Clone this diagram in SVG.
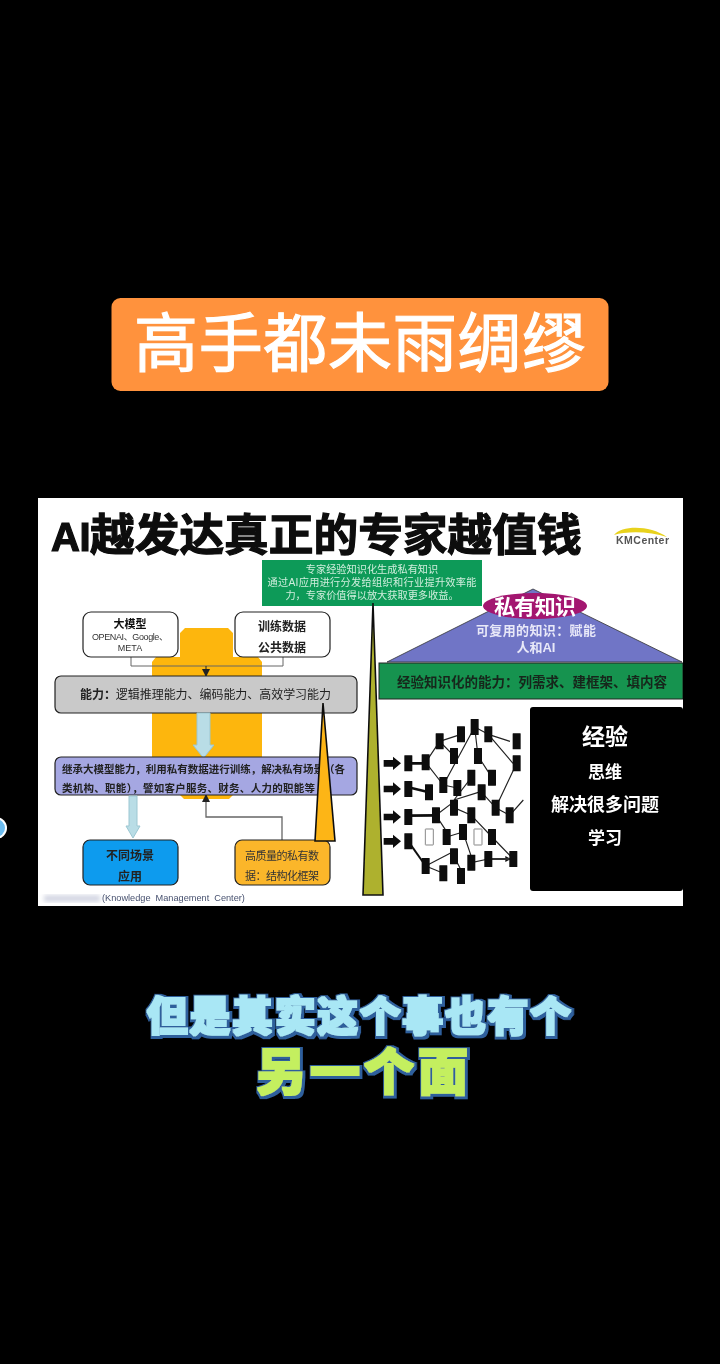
<svg xmlns="http://www.w3.org/2000/svg" width="720" height="1364" viewBox="0 0 720 1364">
<style>
text{font-family:"Liberation Sans","Noto Sans CJK SC",sans-serif}
.c{text-anchor:middle}
.b{font-weight:700}
.box{stroke:#222;stroke-width:1.200}
.gl{fill:none;stroke:#666;stroke-width:1}
.tri{stroke:#111;stroke-width:1.600}
.pale{fill:#b9dde6;stroke:#9cc7d2;stroke-width:1}
.k{fill:#0a0a0a}
.h{fill:#fff;stroke:#888;stroke-width:3}
.n{stroke:#222;stroke-width:3.500;fill:none;marker-end:url(#a)}
.n2{stroke:#111;stroke-width:8;fill:none}
.sub{font-weight:900}
</style>
<defs>
<marker id="a" markerWidth="5" markerHeight="5" refX="4" refY="2.500" orient="auto"><path d="M0 0L5 2.500L0 5Z" fill="#111"/></marker>
<marker id="m" markerWidth="8" markerHeight="8" refX="7" refY="4" orient="auto" markerUnits="userSpaceOnUse"><path d="M0 0L8 4L0 8Z" fill="#222"/></marker>
<rect id="r" x="-12" y="-24" width="24" height="48" rx="1"/>
<path id="big" d="M-26-10H2V-20L26 0L2 20V10H-26Z"/>
<filter id="bl"><feGaussianBlur stdDeviation="2"/></filter>
<filter id="soft" x="0" y="0" width="100%" height="100%"><feGaussianBlur stdDeviation="0.450"/></filter>
<filter id="fat" x="-5%" y="-20%" width="110%" height="140%">
<feMorphology in="SourceAlpha" operator="dilate" radius="3.200" result="o"/>
<feGaussianBlur in="o" stdDeviation="0.700" result="ob"/>
<feOffset in="ob" dx="1" dy="1" result="oo"/>
<feFlood flood-color="#2f5f9c"/>
<feComposite in2="oo" operator="in" result="edge"/>
<feMorphology in="SourceGraphic" operator="dilate" radius="0.800" result="f"/>
<feGaussianBlur in="f" stdDeviation="0.500" result="fb"/>
<feMerge><feMergeNode in="edge"/><feMergeNode in="fb"/></feMerge>
</filter>
</defs>
<rect width="720" height="1364" fill="#000"/>

<g id="header" filter="url(#soft)">
<rect x="111.500" y="298" width="497" height="93" rx="9" fill="#ff923c"/>
<text x="360" y="366" class="c" font-size="64" fill="#fff" stroke="#fff" stroke-width="1.200" textLength="452">高手都未雨绸缪</text>
</g>

<g id="side-dot">
<circle cx="-4" cy="828" r="11" fill="#fff"/>
<circle cx="-4" cy="828" r="9" fill="#6cbcf0"/>
</g>

<g id="slide-content" filter="url(#soft)">
<g id="slide">
<rect x="38" y="498" width="645" height="408" fill="#fff"/>
<text id="title" x="51" y="551" font-size="44.700" font-weight="700" fill="#0a0a0a" stroke="#0a0a0a" stroke-width="1.200"><tspan font-size="40" letter-spacing="-.5">AI</tspan>越发达真正的专家越值钱</text>
</g>

<g id="logo">
<path d="M614 535C622 525 650 525 667 537C650 531 626 531 614 535Z" fill="#e8d21e"/>
<text x="616" y="544" font-size="10.500" font-weight="700" fill="#555" textLength="53">KMCenter</text>
</g>

<g id="orange-block">
<path d="M180 633L185 628H228L233 633V657H258L262 662V762H233V795L229 799H184L180 795V762H152V662L156 657H180Z" fill="#fdb609"/>
</g>

<g id="connectors">
<path class="gl" d="M131 657V666H283V657"/>
<path d="M206 666V676" stroke="#222" stroke-width="1" marker-end="url(#m)" fill="none"/>
<path class="gl" d="M282 840V817H206V796" style="stroke-width:1.300"/>
<path d="M206 800V795" stroke="#222" stroke-width="1" marker-end="url(#m)" fill="none"/>
</g>

<g id="n-model">
<rect class="box" x="83" y="612" width="95" height="45" rx="8" fill="#fff"/>
<text x="130" y="628" class="c b" font-size="11" fill="#111">大模型</text>
<text x="130" y="640" class="c" font-size="9" fill="#333" textLength="76">OPENAI、Google、</text>
<text x="130" y="651" class="c" font-size="9" fill="#333">META</text>
</g>
<g id="n-data">
<rect class="box" x="235" y="612" width="95" height="45" rx="8" fill="#fff"/>
<text x="282" y="631" class="c b" font-size="12" fill="#222">训练数据</text>
<text x="282" y="652" class="c b" font-size="12" fill="#222">公共数据</text>
</g>

<g id="n-ability">
<rect class="box" x="55" y="676" width="302" height="37" rx="6" fill="#c9c9c9"/>
<text x="80" y="699" font-size="12" fill="#222" textLength="251"><tspan font-weight="700">能力：</tspan>逻辑推理能力、编码能力、高效学习能力</text>
</g>

<path id="arrow-down-1" class="pale" d="M197 713H210V745H214L203.500 758L193 745H197Z"/>

<g id="n-inherit">
<rect class="box" x="55" y="757" width="302" height="38" rx="6" fill="#a5a7e2"/>
<text x="62" y="773" font-size="10.500" font-weight="700" fill="#222" textLength="283">继承大模型能力，利用私有数据进行训练，解决私有场景（各</text>
<text x="62" y="792" font-size="10.500" font-weight="700" fill="#222" textLength="253">类机构、职能），譬如客户服务、财务、人力的职能等</text>
</g>

<path id="arrow-down-2" class="pale" d="M129 796H137V826H140L133 838L126 826H129Z"/>

<g id="n-scene">
<rect class="box" x="83" y="840" width="95" height="45" rx="7" fill="#0f9bee"/>
<text x="130" y="860" class="c b" font-size="12" fill="#222">不同场景</text>
<text x="130" y="881" class="c b" font-size="12" fill="#222">应用</text>
</g>
<g id="n-private">
<rect class="box" x="235" y="840" width="95" height="45" rx="7" fill="#fbb62c"/>
<text x="245" y="860" font-size="11" fill="#333" textLength="74">高质量的私有数</text>
<text x="245" y="880" font-size="11" fill="#333" textLength="74">据：结构化框架</text>
</g>

<path id="tri-orange" class="tri" d="M323 703L335 841H315Z" fill="#fdb515"/>

<g id="n-green-top">
<rect x="262" y="560" width="220" height="46" fill="#0f9a58"/>
<text x="372" y="573" class="c" font-size="10.200" fill="#cfeedd">专家经验知识化生成私有知识</text>
<text x="372" y="586" class="c" font-size="10.200" fill="#cfeedd" textLength="209">通过AI应用进行分发给组织和行业提升效率能</text>
<text x="372" y="599" class="c" font-size="10.200" fill="#cfeedd">力，专家价值得以放大获取更多收益。</text>
</g>

<path id="tri-olive" class="tri" d="M373 603L383 895H363Z" fill="#aeb12e"/>

<g id="n-pyramid">
<path d="M533 589L682 662H387Z" fill="#6f74c6" stroke="#333" stroke-width=".8"/>
<ellipse cx="535" cy="606" rx="52" ry="13" fill="#a3146f"/>
<text x="535" y="614" class="c b" font-size="21" fill="#fff" textLength="82">私有知识</text>
<text x="536" y="635" class="c b" font-size="13" fill="#e8e8f8" textLength="120">可复用的知识：赋能</text>
<text x="536" y="652" class="c b" font-size="13" fill="#e8e8f8">人和AI</text>
</g>

<g id="n-green-band">
<rect x="379" y="663" width="304" height="36" fill="#12934f" stroke="#222" stroke-width="1"/>
<text x="397" y="687" font-size="13.500" font-weight="700" fill="#14261a" textLength="270">经验知识化的能力：列需求、建框架、填内容</text>
</g>

<g id="n-black">
<rect x="530" y="707" width="153" height="184" rx="3" fill="#000"/>
<text x="605" y="745" class="c b" font-size="23" fill="#fff">经验</text>
<text x="605" y="778" class="c b" font-size="17" fill="#fff">思维</text>
<text x="605" y="811" class="c b" font-size="18" fill="#fff">解决很多问题</text>
<text x="605" y="844" class="c b" font-size="17" fill="#fff">学习</text>
</g>

<g id="network" transform="translate(375 700) scale(.3333)">
<use href="#big" x="52" y="190" class="k"/><use href="#big" x="52" y="267" class="k"/><use href="#big" x="52" y="351" class="k"/><use href="#big" x="52" y="424" class="k"/>
<path class="n2" d="M100 190H152M100 262L162 277M100 347L183 346"/>
<path class="n2" d="M100 424L152 498" style="stroke-width:6"/>
<path class="n" d="M152 187L194 124M152 187L205 255M194 124L258 103M194 124L237 168M205 255L299 81M299 81L340 103M299 81L309 168M309 168L351 233M340 103L405 124M340 103L414 190M425 190L362 323M205 255L247 264M237 300L289 233M237 300L310 277M320 277L362 323M362 323L404 346M404 346L445 300M183 346L237 305M183 346L215 395M237 323L289 346M289 346L351 411M351 411L415 477M215 411L264 396M264 396L289 470M152 498L237 454M152 498L205 520M237 469L258 510M289 488L340 477M340 477L405 477"/>
<path d="M340 477H405" stroke="#333" stroke-width="6" fill="none"/>
<g class="k">
<use href="#r" x="100" y="190"/><use href="#r" x="152" y="187"/><use href="#r" x="100" y="267"/><use href="#r" x="162" y="277"/><use href="#r" x="100" y="351"/><use href="#r" x="183" y="346"/><use href="#r" x="100" y="424"/><use href="#r" x="152" y="498"/><use href="#r" x="194" y="124"/><use href="#r" x="258" y="103"/><use href="#r" x="237" y="168"/><use href="#r" x="299" y="81"/><use href="#r" x="340" y="103"/><use href="#r" x="425" y="124"/><use href="#r" x="425" y="190"/><use href="#r" x="309" y="168"/><use href="#r" x="205" y="255"/><use href="#r" x="247" y="264"/><use href="#r" x="289" y="233"/><use href="#r" x="351" y="233"/><use href="#r" x="320" y="277"/><use href="#r" x="237" y="323"/><use href="#r" x="289" y="346"/><use href="#r" x="362" y="323"/><use href="#r" x="404" y="346"/><use href="#r" x="215" y="411"/><use href="#r" x="264" y="396"/><use href="#r" x="351" y="411"/><use href="#r" x="237" y="469"/><use href="#r" x="205" y="520"/><use href="#r" x="258" y="528"/><use href="#r" x="289" y="488"/><use href="#r" x="340" y="477"/><use href="#r" x="415" y="477"/>
</g>
<use href="#r" x="163" y="411" class="h"/><use href="#r" x="309" y="411" class="h"/>
</g>

<g id="footer">
<rect x="44" y="895" width="56" height="7" fill="#d5d8e4" filter="url(#bl)"/>
<text x="102" y="901" font-size="9.200" fill="#46506e" word-spacing="2.500">(Knowledge Management Center)</text>
</g>
</g>

<g id="subtitles">
<text x="359" y="1031" class="c sub" font-size="41" fill="#a9e7f5" filter="url(#fat)" textLength="424">但是其实这个事也有个</text>
<text x="362" y="1090" class="c sub" font-size="50" fill="#c4ef5e" filter="url(#fat)" textLength="212">另一个面</text>
</g>
</svg>
